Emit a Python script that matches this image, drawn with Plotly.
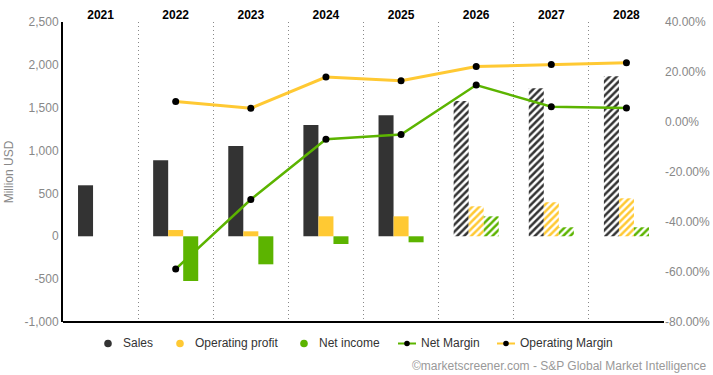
import plotly.graph_objects as go

years = ["2021", "2022", "2023", "2024", "2025", "2026", "2027", "2028"]
sales = [595, 888, 1054, 1297, 1412, 1578, 1727, 1867]
operating_profit = [None, 73, 58, 233, 233, 350, 397, 443]
net_income = [None, -522, -327, -90, -70, 233, 105, 105]
net_margin = [None, -58.8, -31.0, -6.9, -5.0, 14.8, 6.1, 5.6]
operating_margin = [None, 8.2, 5.5, 18.0, 16.5, 22.2, 23.0, 23.7]
forecast = [False, False, False, False, False, True, True, True]

left_ticks = [-1000, -500, 0, 500, 1000, 1500, 2000, 2500]
left_ticktext = ["-1,000", "-500", "0", "500", "1,000", "1,500", "2,000", "2,500"]
right_ticks = [-80, -60, -40, -20, 0, 20, 40]
right_ticktext = ["-80.00%", "-60.00%", "-40.00%", "-20.00%", "0.00%", "20.00%", "40.00%"]

legend_names = ["Sales", "Operating profit", "Net income", "Net Margin", "Operating Margin"]

C_SALES = "#333333"
C_OP = "#FFC933"
C_NI = "#5CB400"
FONT = "Arial, Liberation Sans, sans-serif"

W, H = 713, 375
ML, MR, MT, MB = 63, 49, 22, 53
PW, PH = W - ML - MR, H - MT - MB


def px(x):
    return (x - ML) / PW


def py(y):
    return (H - MB - y) / PH


shapes_pat = ["/" if f else "" for f in forecast]


def bar(name, vals, color):
    return go.Bar(
        x=years, y=vals, name=name, showlegend=False,
        marker=dict(color=color, line=dict(width=0),
                    pattern=dict(shape=shapes_pat, fgcolor=color, bgcolor="white",
                                 size=5, solidity=0.5, fillmode="replace")),
        yaxis="y", hoverinfo="skip",
    )


fig = go.Figure()
fig.add_trace(bar("Sales", sales, C_SALES))
fig.add_trace(bar("Operating profit", operating_profit, C_OP))
fig.add_trace(bar("Net income", net_income, C_NI))

fig.add_trace(go.Scatter(x=years, y=net_margin, name="Net Margin", yaxis="y2",
                         mode="lines+markers", line=dict(color=C_NI, width=2.5),
                         marker=dict(color="black", size=7), showlegend=False))
fig.add_trace(go.Scatter(x=years, y=operating_margin, name="Operating Margin", yaxis="y2",
                         mode="lines+markers", line=dict(color=C_OP, width=3),
                         marker=dict(color="black", size=7), showlegend=False))

# custom compact legend (symbol kinds and colours per series)
legend_kinds = ["dot", "dot", "dot", "line", "line"]
legend_colors = [C_SALES, C_OP, C_NI, C_NI, C_OP]
legend_sym_x = [108, 180, 304, 407, 506]
legend_y = 343.5
shapes = [dict(type="line", xref="paper", yref="paper", x0=0, x1=1, y0=0, y1=0,
               line=dict(color="black", width=2))]
annotations = []
for name, kind, col, sx in zip(legend_names, legend_kinds, legend_colors, legend_sym_x):
    if kind == "dot":
        r = 3.8
        shapes.append(dict(type="circle", xref="paper", yref="paper",
                           x0=px(sx - r), x1=px(sx + r), y0=py(legend_y + r), y1=py(legend_y - r),
                           fillcolor=col, line=dict(width=0)))
        tx = sx + 13
    else:
        shapes.append(dict(type="line", xref="paper", yref="paper",
                           x0=px(sx - 9), x1=px(sx + 9), y0=py(legend_y), y1=py(legend_y),
                           line=dict(color=col, width=2)))
        r = 2.8
        shapes.append(dict(type="circle", xref="paper", yref="paper",
                           x0=px(sx - r), x1=px(sx + r), y0=py(legend_y + r), y1=py(legend_y - r),
                           fillcolor="black", line=dict(width=0)))
        tx = sx + 12
    annotations.append(dict(text=name, xref="paper", yref="paper", x=px(tx), y=py(legend_y - 1),
                            xanchor="left", yanchor="middle", showarrow=False,
                            font=dict(size=12, color="#333333")))

annotations.append(dict(text="©marketscreener.com - S&P Global Market Intelligence",
                        xref="paper", yref="paper", x=px(708), y=py(365.5), xanchor="right",
                        yanchor="middle", showarrow=False,
                        font=dict(size=12, color="#999999")))

fig.update_layout(
    width=W, height=H,
    margin=dict(l=ML, r=MR, t=MT, b=MB, autoexpand=False),
    paper_bgcolor="white", plot_bgcolor="white",
    font=dict(family=FONT, size=12, color="#333333"),
    barmode="group", bargap=0.4, bargroupgap=0,
    showlegend=False,
    xaxis=dict(type="category", side="top", showline=False, ticks="",
               tickfont=dict(family=FONT, size=12, color="black", weight="bold"),
               showgrid=True, griddash="1px,3px", gridcolor="#888888", gridwidth=1,
               tickson="boundaries", zeroline=False, range=[-0.5, 7.5], automargin=False),
    yaxis=dict(range=[-1000, 2500], tickvals=left_ticks, ticktext=left_ticktext,
               showgrid=False, zeroline=False, showline=True, linecolor="black",
               linewidth=2, ticks="", tickfont=dict(color="#888888", size=12),
               automargin=False,
               title=dict(text="Million USD", font=dict(color="#888888", size=12), standoff=8)),
    yaxis2=dict(range=[-80, 40], tickvals=right_ticks, ticktext=right_ticktext,
                overlaying="y", side="right", showgrid=False, zeroline=False, automargin=False,
                showline=False, ticks="", tickfont=dict(color="#888888", size=12)),
    shapes=shapes,
    annotations=annotations,
)

fig.write_html("out.html", config={"displayModeBar": False},
               post_script="document.body.style.margin='0px';document.body.style.overflow='hidden';")
